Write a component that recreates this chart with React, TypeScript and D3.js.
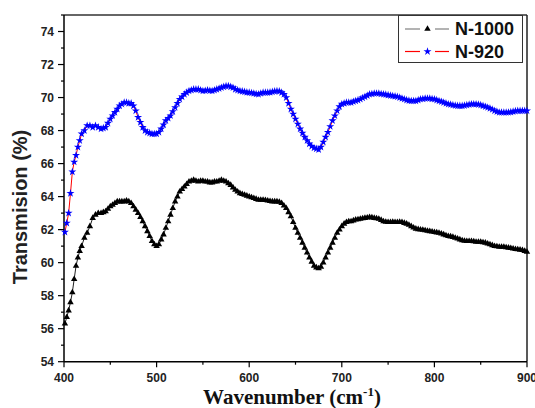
import React, { useEffect, useRef } from "react";
import * as d3 from "d3";

const wavenumbers = [
  401,403,405,407,409,411,413,415,417,419,422,425,428,431,434,437,440,
  442.5,445,447.5,450,452.5,455,457.5,460,462.5,465,467.5,470,472.5,475,477.5,480,482.5,485,487.5,490,492.5,495,497.5,500,
  502.5,505,507.5,510,512.5,515,517.5,520,522.5,525,527.5,530,532.5,535,537.5,540,542.5,545,547.5,550,
  552.5,555,557.5,560,562.5,565,567.5,570,572.5,575,577.5,580,582.5,585,587.5,590,592.5,595,597.5,600,
  602.5,605,607.5,610,612.5,615,617.5,620,622.5,625,627.5,630,632.5,635,637.5,640,642.5,645,647.5,650,
  652.5,655,657.5,660,662.5,665,667.5,670,672.5,675,677.5,680,682.5,685,687.5,690,692.5,695,697.5,700,
  702.5,705,707.5,710,712.5,715,717.5,720,722.5,725,727.5,730,732.5,735,737.5,740,742.5,745,747.5,750,
  752.5,755,757.5,760,762.5,765,767.5,770,772.5,775,777.5,780,782.5,785,787.5,790,792.5,795,797.5,800,
  802.5,805,807.5,810,812.5,815,817.5,820,822.5,825,827.5,830,832.5,835,837.5,840,842.5,845,847.5,850,
  852.5,855,857.5,860,862.5,865,867.5,870,872.5,875,877.5,880,882.5,885,887.5,890,892.5,895,897.5,900,
];

const n1000 = [
  56.3,56.7,57.1,57.6,58.2,59.0,59.8,60.3,60.7,61.0,61.5,61.8,62.2,62.7,62.9,63.0,63.0,
  63.05,63.1,63.25,63.4,63.5,63.6,63.7,63.7,63.7,63.7,63.75,63.7,63.6,63.4,63.2,63.0,62.75,62.5,62.2,61.9,61.6,61.3,61.1,61.0,
  61.1,61.4,61.7,62.1,62.5,62.9,63.3,63.7,64.0,64.3,64.45,64.6,64.75,64.9,64.95,65.0,64.95,64.9,64.95,64.95,
  64.9,64.9,64.85,64.85,64.9,64.9,64.95,65.0,64.95,64.9,64.8,64.7,64.55,64.4,64.3,64.2,64.15,64.1,64.05,64.0,
  63.95,63.9,63.85,63.8,63.8,63.8,63.78,63.75,63.72,63.7,63.7,63.7,63.68,63.6,63.45,63.3,63.05,62.8,62.45,62.1,
  61.8,61.5,61.2,60.9,60.6,60.3,60.05,59.8,59.7,59.65,59.75,60.0,60.3,60.6,60.9,61.2,61.5,61.8,62.0,62.2,
  62.35,62.45,62.5,62.5,62.55,62.6,62.62,62.65,62.68,62.7,62.72,62.75,62.73,62.7,62.68,62.65,62.58,62.5,62.47,62.45,
  62.45,62.47,62.45,62.45,62.46,62.45,62.4,62.35,62.28,62.2,62.12,62.05,62.02,62.0,61.98,61.95,61.92,61.9,61.88,61.85,
  61.82,61.8,61.75,61.7,61.65,61.6,61.58,61.55,61.5,61.45,61.4,61.35,61.32,61.3,61.3,61.3,61.28,61.25,61.25,61.25,
  61.22,61.2,61.15,61.1,61.05,61.0,60.98,60.95,60.95,60.95,60.92,60.9,60.88,60.85,60.82,60.8,60.78,60.75,60.7,60.65,
];

const n920 = [
  61.85,62.4,63.0,64.2,65.5,66.1,66.5,67.0,67.4,67.8,68.0,68.3,68.3,68.2,68.3,68.2,68.1,
  68.15,68.2,68.45,68.7,68.9,69.1,69.3,69.5,69.6,69.7,69.7,69.65,69.65,69.5,69.2,68.8,68.5,68.2,68.0,67.9,67.85,67.8,67.8,67.8,
  67.9,68.1,68.35,68.6,68.75,68.9,69.15,69.4,69.65,69.9,70.05,70.2,70.3,70.4,70.45,70.5,70.5,70.5,70.45,70.4,
  70.42,70.45,70.42,70.4,70.45,70.5,70.55,70.6,70.65,70.7,70.7,70.65,70.6,70.5,70.45,70.4,70.38,70.35,70.32,70.3,
  70.28,70.25,70.22,70.2,70.25,70.3,70.3,70.3,70.32,70.35,70.38,70.4,70.38,70.3,70.2,70.0,69.65,69.3,69.0,68.7,
  68.4,68.1,67.85,67.6,67.4,67.2,67.05,66.95,66.9,66.85,67.0,67.3,67.6,67.9,68.25,68.6,68.9,69.2,69.45,69.6,
  69.65,69.7,69.7,69.7,69.75,69.8,69.85,69.9,69.98,70.05,70.12,70.2,70.22,70.25,70.25,70.25,70.22,70.2,70.18,70.15,
  70.12,70.1,70.08,70.05,70.0,69.95,69.9,69.85,69.82,69.8,69.8,69.8,69.85,69.9,69.92,69.95,69.95,69.95,69.92,69.9,
  69.85,69.8,69.75,69.7,69.65,69.6,69.58,69.55,69.52,69.5,69.5,69.5,69.52,69.55,69.58,69.6,69.6,69.6,69.58,69.55,
  69.5,69.45,69.4,69.35,69.28,69.2,69.15,69.1,69.1,69.1,69.1,69.1,69.12,69.15,69.18,69.2,69.2,69.2,69.2,69.2,
];

const xTicks = [400, 500, 600, 700, 800, 900];
const yTicks = [54, 56, 58, 60, 62, 64, 66, 68, 70, 72, 74];
const seriesNames = ["N-1000", "N-920"];

export default function App() {
  const ref = useRef<SVGSVGElement>(null);

  useEffect(() => {
    document.body.style.margin = "0";
    const svg = d3.select(ref.current);
    svg.selectAll("*").remove();

    const L = 64, R = 527, T = 15, B = 361.7;
    const x = d3.scaleLinear().domain([400, 900]).range([L, R]);
    const y = d3.scaleLinear().domain([54, 75]).range([B, T]);
    const sans = "Liberation Sans, Arial, sans-serif";
    const serif = "Liberation Serif, Times New Roman, serif";

    // frame top/right
    svg.append("line").attr("x1", L).attr("x2", R).attr("y1", T).attr("y2", T)
      .attr("stroke", "#333").attr("stroke-width", 1.5);
    svg.append("line").attr("x1", R).attr("x2", R).attr("y1", T).attr("y2", B)
      .attr("stroke", "#222").attr("stroke-width", 1.5);

    // axes
    const g = svg.append("g");
    g.append("line").attr("x1", L).attr("x2", L).attr("y1", T).attr("y2", B)
      .attr("stroke", "#000").attr("stroke-width", 1.5);
    g.append("line").attr("x1", L).attr("x2", R).attr("y1", B).attr("y2", B)
      .attr("stroke", "#000").attr("stroke-width", 1.5);

    // y ticks
    d3.range(54, 76, 1).forEach((v) => {
      const major = v % 2 === 0;
      g.append("line").attr("x1", L - (major ? 6 : 3)).attr("x2", L)
        .attr("y1", y(v)).attr("y2", y(v)).attr("stroke", "#000").attr("stroke-width", 1.2);
    });
    yTicks.forEach((v) => {
      g.append("text").attr("x", L - 10).attr("y", y(v)).attr("dy", "0.35em")
        .attr("text-anchor", "end").attr("font-family", sans).attr("font-weight", "bold")
        .attr("font-size", 12).attr("fill", "#222").text(v);
    });
    // x ticks
    d3.range(400, 901, 50).forEach((v) => {
      const major = v % 100 === 0;
      g.append("line").attr("x1", x(v)).attr("x2", x(v)).attr("y1", B)
        .attr("y2", B + (major ? 5.5 : 3)).attr("stroke", "#000").attr("stroke-width", 1.2);
    });
    xTicks.forEach((v) => {
      g.append("text").attr("x", x(v)).attr("y", 382).attr("text-anchor", "middle")
        .attr("font-family", sans).attr("font-weight", "bold").attr("font-size", 12)
        .attr("fill", "#222").text(v);
    });

    // axis titles
    svg.append("text").attr("transform", `translate(27,207) rotate(-90)`)
      .attr("text-anchor", "middle").attr("font-family", sans).attr("font-weight", "bold")
      .attr("font-size", 20).attr("fill", "#222").text("Transmision (%)");
    const xt = svg.append("text").attr("x", 292).attr("y", 404).attr("text-anchor", "middle")
      .attr("font-family", serif).attr("font-weight", "bold").attr("font-size", 21).attr("fill", "#111");
    xt.append("tspan").text("Wavenumber (cm");
    xt.append("tspan").attr("font-size", 13).attr("dy", -8).text("-1");
    xt.append("tspan").attr("dy", 8).text(")");

    const pts1 = wavenumbers.map((w, i) => [w, n1000[i]] as [number, number]);
    const pts2 = wavenumbers.map((w, i) => [w, n920[i]] as [number, number]);
    const line = d3.line<[number, number]>().x((d) => x(d[0])).y((d) => y(d[1]));

    const tri = d3.symbol().type(d3.symbolTriangle).size(18)();
    const star = d3.symbol().type(d3.symbolStar).size(20)();

    svg.append("path").attr("d", line(pts1)).attr("fill", "none").attr("stroke", "#222").attr("stroke-width", 1);
    svg.append("g").selectAll("path").data(pts1).join("path")
      .attr("d", tri).attr("transform", (d) => `translate(${x(d[0])},${y(d[1])})`).attr("fill", "#000");

    svg.append("path").attr("d", line(pts2)).attr("fill", "none").attr("stroke", "#ff0000").attr("stroke-width", 1);
    svg.append("g").selectAll("path").data(pts2).join("path")
      .attr("d", star).attr("transform", (d) => `translate(${x(d[0])},${y(d[1])})`).attr("fill", "#0000ff");

    // legend
    const lg = svg.append("g");
    lg.append("rect").attr("x", 398.5).attr("y", 15.5).attr("width", 124).attr("height", 47)
      .attr("fill", "#fff").attr("stroke", "#333").attr("stroke-width", 1);
    const entries = [
      { name: seriesNames[0], color: "#808080", mk: tri, mc: "#000", yy: 29 },
      { name: seriesNames[1], color: "#ff0000", mk: star, mc: "#0000ff", yy: 51.5 },
    ];
    entries.forEach((e) => {
      lg.append("line").attr("x1", 405).attr("x2", 420).attr("y1", e.yy).attr("y2", e.yy)
        .attr("stroke", e.color).attr("stroke-width", 1.2);
      lg.append("line").attr("x1", 435).attr("x2", 449).attr("y1", e.yy).attr("y2", e.yy)
        .attr("stroke", e.color).attr("stroke-width", 1.2);
      lg.append("path").attr("d", e.mk).attr("transform", `translate(427.5,${e.yy})`).attr("fill", e.mc);
      lg.append("text").attr("x", 455).attr("y", e.yy).attr("dy", "0.36em")
        .attr("font-family", sans).attr("font-weight", "bold").attr("font-size", 18)
        .attr("fill", "#111").text(e.name);
    });
  }, []);

  return (
    <svg ref={ref} width={535} height={408}
      style={{ position: "absolute", left: 0, top: 0, background: "#fff" }} />
  );
}
